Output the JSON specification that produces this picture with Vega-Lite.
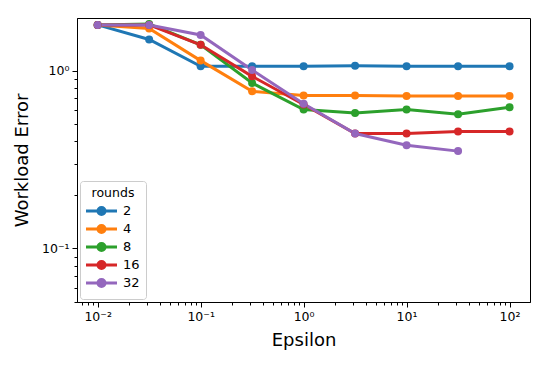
{
  "$schema": "https://vega.github.io/schema/vega-lite/v6.json",
  "width": 453,
  "height": 284,
  "autosize": {"type": "none"},
  "padding": {"left": 77, "top": 18, "right": 18, "bottom": 64},
  "background": "white",
  "config": {
    "font": "DejaVu Sans",
    "view": {"stroke": "black", "strokeWidth": 1},
    "axis": {
      "grid": false,
      "domainColor": "black",
      "tickColor": "black",
      "labelColor": "black",
      "titleColor": "black",
      "labelFont": "DejaVu Sans",
      "titleFont": "DejaVu Sans",
      "labelFontSize": 12.5,
      "titleFontSize": 18,
      "titleFontWeight": "normal",
      "labelFlush": false,
      "labelOverlap": false
    }
  },
  "data": {
    "values": [
      {"eps": 0.01, "err": 1.81, "rounds": 2},
      {"eps": 0.031623, "err": 1.50, "rounds": 2},
      {"eps": 0.1, "err": 1.06, "rounds": 2},
      {"eps": 0.31623, "err": 1.06, "rounds": 2},
      {"eps": 1, "err": 1.06, "rounds": 2},
      {"eps": 3.1623, "err": 1.065, "rounds": 2},
      {"eps": 10, "err": 1.06, "rounds": 2},
      {"eps": 31.623, "err": 1.06, "rounds": 2},
      {"eps": 100, "err": 1.06, "rounds": 2},
      {"eps": 0.01, "err": 1.81, "rounds": 4},
      {"eps": 0.031623, "err": 1.73, "rounds": 4},
      {"eps": 0.1, "err": 1.14, "rounds": 4},
      {"eps": 0.31623, "err": 0.766, "rounds": 4},
      {"eps": 1, "err": 0.725, "rounds": 4},
      {"eps": 3.1623, "err": 0.725, "rounds": 4},
      {"eps": 10, "err": 0.72, "rounds": 4},
      {"eps": 31.623, "err": 0.72, "rounds": 4},
      {"eps": 100, "err": 0.72, "rounds": 4},
      {"eps": 0.01, "err": 1.81, "rounds": 8},
      {"eps": 0.031623, "err": 1.83, "rounds": 8},
      {"eps": 0.1, "err": 1.40, "rounds": 8},
      {"eps": 0.31623, "err": 0.853, "rounds": 8},
      {"eps": 1, "err": 0.605, "rounds": 8},
      {"eps": 3.1623, "err": 0.578, "rounds": 8},
      {"eps": 10, "err": 0.605, "rounds": 8},
      {"eps": 31.623, "err": 0.570, "rounds": 8},
      {"eps": 100, "err": 0.624, "rounds": 8},
      {"eps": 0.01, "err": 1.81, "rounds": 16},
      {"eps": 0.031623, "err": 1.81, "rounds": 16},
      {"eps": 0.1, "err": 1.40, "rounds": 16},
      {"eps": 0.31623, "err": 0.93, "rounds": 16},
      {"eps": 1, "err": 0.646, "rounds": 16},
      {"eps": 3.1623, "err": 0.443, "rounds": 16},
      {"eps": 10, "err": 0.443, "rounds": 16},
      {"eps": 31.623, "err": 0.455, "rounds": 16},
      {"eps": 100, "err": 0.455, "rounds": 16},
      {"eps": 0.01, "err": 1.81, "rounds": 32},
      {"eps": 0.031623, "err": 1.81, "rounds": 32},
      {"eps": 0.1, "err": 1.59, "rounds": 32},
      {"eps": 0.31623, "err": 1.01, "rounds": 32},
      {"eps": 1, "err": 0.652, "rounds": 32},
      {"eps": 3.1623, "err": 0.443, "rounds": 32},
      {"eps": 10, "err": 0.381, "rounds": 32},
      {"eps": 31.623, "err": 0.353, "rounds": 32}
    ]
  },
  "encoding": {
    "x": {
      "field": "eps",
      "type": "quantitative",
      "title": "Epsilon",
      "scale": {"type": "log", "domain": [0.0063, 158], "nice": false, "zero": false},
      "axis": {
        "values": [0.007, 0.008, 0.009, 0.01, 0.02, 0.03, 0.04, 0.05, 0.06, 0.07, 0.08, 0.09, 0.1, 0.2, 0.3, 0.4, 0.5, 0.6, 0.7, 0.8, 0.9, 1, 2, 3, 4, 5, 6, 7, 8, 9, 10, 20, 30, 40, 50, 60, 70, 80, 90, 100],
        "labelExpr": "abs(log(datum.value)/LN10 - round(log(datum.value)/LN10)) < 0.01 ? '10' + replace(replace(replace(replace(replace('' + round(log(datum.value)/LN10), '-', '⁻'), '0', '⁰'), '1', '¹'), '2', '²'), '3', '³') : ''",
        "tickSize": {"condition": {"test": "abs(log(datum.value)/LN10 - round(log(datum.value)/LN10)) < 0.01", "value": 5}, "value": 3},
        "labelPadding": 3,
        "titlePadding": 9
      }
    },
    "y": {
      "field": "err",
      "type": "quantitative",
      "title": "Workload Error",
      "scale": {"type": "log", "domain": [0.05, 1.98], "nice": false, "zero": false},
      "axis": {
        "values": [0.05, 0.06, 0.07, 0.08, 0.09, 0.1, 0.2, 0.3, 0.4, 0.5, 0.6, 0.7, 0.8, 0.9, 1],
        "labelExpr": "abs(log(datum.value)/LN10 - round(log(datum.value)/LN10)) < 0.01 ? '10' + replace(replace(replace(replace('' + round(log(datum.value)/LN10), '-', '⁻'), '0', '⁰'), '1', '¹'), '2', '²') : ''",
        "tickSize": {"condition": {"test": "abs(log(datum.value)/LN10 - round(log(datum.value)/LN10)) < 0.01", "value": 5}, "value": 3},
        "labelPadding": 3,
        "titlePadding": 10
      }
    },
    "color": {
      "field": "rounds",
      "type": "ordinal",
      "title": "rounds",
      "scale": {"domain": [2, 4, 8, 16, 32], "range": ["#1f77b4", "#ff7f0e", "#2ca02c", "#d62728", "#9467bd"]},
      "legend": {
        "orient": "bottom-left",
        "offset": 3,
        "padding": 6,
        "fillColor": "white",
        "strokeColor": "#cccccc",
        "cornerRadius": 3,
        "titleFontSize": 12.5,
        "titleFontWeight": "normal",
        "titleAnchor": "middle",
        "titleColor": "black",
        "titlePadding": 5,
        "labelFontSize": 13,
        "labelColor": "black",
        "symbolType": "M-3.1,0L3.1,0M-0.7,0A0.7,0.7,0,1,1,0.7,0A0.7,0.7,0,1,1,-0.7,0Z",
        "symbolSize": 100,
        "symbolStrokeWidth": 3,
        "symbolOffset": 9,
        "labelOffset": 15,
        "rowPadding": -1
      }
    }
  },
  "layer": [
    {"mark": {"type": "line", "strokeWidth": 3}},
    {"mark": {"type": "point", "filled": true, "size": 64, "opacity": 1}}
  ]
}
